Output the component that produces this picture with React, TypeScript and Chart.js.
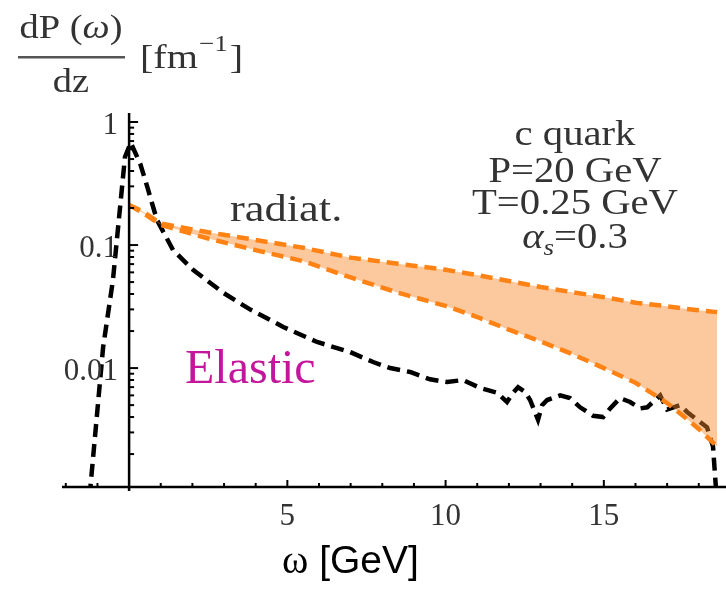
import React, { useEffect, useRef } from "react";
import { Chart, registerables } from "chart.js";
Chart.register(...registerables);

// Elastic energy-loss spectrum (black dashed)
const elasticOmega = [-1.25, -1.01, -0.82, -0.51, -0.13, 0.05, 0.35, 0.57, 0.88, 1.39, 2.02, 2.97, 3.82, 4.87, 5.94, 6.98, 7.71, 8.25, 8.88, 9.51, 10.05, 10.55, 11.09, 11.63, 11.94, 12.13, 12.29, 12.51, 12.67, 12.92, 13.05, 13.21, 13.62, 13.93, 14.25, 14.66, 14.98, 15.2, 15.51, 15.83, 16.15, 16.37, 16.78, 17.0, 17.41, 17.63, 17.95, 18.26, 18.45, 18.55];
const elasticValue = [0.0009, 0.0043, 0.0148, 0.052, 0.52, 0.68, 0.46, 0.3, 0.16, 0.091, 0.063, 0.041, 0.03, 0.0216, 0.0163, 0.0135, 0.0112, 0.01, 0.0093, 0.0081, 0.0077, 0.008, 0.0069, 0.0063, 0.0053, 0.0063, 0.007, 0.0064, 0.0055, 0.0038, 0.005, 0.0055, 0.006, 0.0057, 0.0048, 0.0041, 0.004, 0.0047, 0.0057, 0.0053, 0.0047, 0.0048, 0.006, 0.0046, 0.005, 0.0044, 0.0038, 0.0033, 0.0023, 0.00099];

// Radiative band (orange)
const radOmega = [0, 0.4, 1, 2.5, 4, 5.5, 7, 8.5, 10, 11, 12, 13, 14, 15, 16, 17, 17.5, 18, 18.58];
const radUpper = [0.211, 0.19, 0.15, 0.127, 0.11, 0.095, 0.079, 0.0705, 0.063, 0.057, 0.051, 0.0456, 0.0414, 0.0377, 0.034, 0.0318, 0.0305, 0.0295, 0.0285];
const radLower = [0.211, 0.185, 0.146, 0.113, 0.091, 0.074, 0.0545, 0.041, 0.032, 0.026, 0.0205, 0.0165, 0.013, 0.01, 0.0076, 0.0052, 0.0041, 0.0032, 0.0023];

const xTickValues = [5, 10, 15];
const xTickLabels = ["5", "10", "15"];
const yTickValues = [1, 0.1, 0.01];
const yTickLabels = ["1", "0.1", "0.01"];

const X_MIN = -2.12;
const X_MAX = 18.86;
const Y_MIN = 0.00108;
const Y_MAX = 1.184;

const SERIF = '"Liberation Serif", "Times New Roman", serif';
const SANS = '"Liberation Sans", Arial, sans-serif';

// draw text with optional horizontal stretch; returns drawn width
function txt(
  ctx: CanvasRenderingContext2D,
  s: string,
  x: number,
  y: number,
  font: string,
  align: "left" | "center" | "right" = "left",
  sx = 1
): number {
  ctx.font = font;
  const w = ctx.measureText(s).width * sx;
  let left = x;
  if (align === "center") left = x - w / 2;
  else if (align === "right") left = x - w;
  ctx.save();
  ctx.textAlign = "left";
  ctx.translate(left, y);
  ctx.scale(sx, 1);
  ctx.fillText(s, 0, 0);
  ctx.restore();
  return w;
}

function width(ctx: CanvasRenderingContext2D, s: string, font: string, sx = 1) {
  ctx.font = font;
  return ctx.measureText(s).width * sx;
}

const overlayPlugin = {
  id: "overlay",
  afterDraw(chart: any) {
    const ctx = chart.ctx as CanvasRenderingContext2D;
    const xs = chart.scales.x;
    const ys = chart.scales.y;
    const area = chart.chartArea;
    const x0 = xs.getPixelForValue(0);
    const yb = area.bottom;
    ctx.save();
    ctx.strokeStyle = "#000";
    ctx.lineWidth = 2.5;
    ctx.lineCap = "butt";
    // axes
    ctx.beginPath();
    ctx.moveTo(area.left, yb);
    ctx.lineTo(area.right, yb);
    ctx.stroke();
    ctx.beginPath();
    ctx.moveTo(x0, area.top);
    ctx.lineTo(x0, yb + 4);
    ctx.stroke();
    // x ticks
    ctx.lineWidth = 2;
    for (let k = -2; k <= 18; k++) {
      if (k === 0) continue;
      const px = xs.getPixelForValue(k);
      const len = k % 5 === 0 ? 7 : 4;
      ctx.beginPath();
      ctx.moveTo(px, yb);
      ctx.lineTo(px, yb - len);
      ctx.stroke();
    }
    // y ticks (log)
    for (let d = -3; d <= 0; d++) {
      for (let m = 1; m <= 9; m++) {
        const v = m * Math.pow(10, d);
        if (v < Y_MIN || v > Y_MAX) continue;
        const py = ys.getPixelForValue(v);
        const len = m === 1 ? 9 : 5;
        ctx.beginPath();
        ctx.moveTo(x0, py);
        ctx.lineTo(x0 + len, py);
        ctx.stroke();
      }
    }
    // tick labels
    ctx.fillStyle = "#333";
    ctx.textBaseline = "alphabetic";
    yTickValues.forEach((v, i) => {
      txt(ctx, yTickLabels[i], x0 - 11, ys.getPixelForValue(v) + 12, `31px ${SERIF}`, "right");
    });
    xTickValues.forEach((v, i) => {
      txt(ctx, xTickLabels[i], xs.getPixelForValue(v), 525, `31px ${SERIF}`, "center");
    });
    // x axis title
    ctx.fillStyle = "#000";
    let lx = 282;
    lx += txt(ctx, "ω", lx, 573, `40px ${SERIF}`, "left");
    txt(ctx, " [GeV]", lx, 573, `39px ${SANS}`, "left");
    // y axis title (fraction)
    ctx.fillStyle = "#333";
    {
      const sxT = 1.13;
      const fU = `34px ${SERIF}`;
      const fI = `italic 34px ${SERIF}`;
      const total = width(ctx, "dP (", fU, sxT) + width(ctx, "ω", fI, sxT) + width(ctx, ")", fU, sxT);
      let px = 71 - total / 2;
      px += txt(ctx, "dP (", px, 38, fU, "left", sxT);
      px += txt(ctx, "ω", px, 38, fI, "left", sxT);
      txt(ctx, ")", px, 38, fU, "left", sxT);
    }
    txt(ctx, "dz", 71, 92, `34px ${SERIF}`, "center", 1.13);
    ctx.fillStyle = "#555";
    ctx.fillRect(18, 56, 107, 2.5);
    ctx.fillStyle = "#333";
    let tx = 140;
    tx += txt(ctx, "[fm", tx, 68, `34px ${SERIF}`, "left", 1.18);
    tx += txt(ctx, "−1", tx + 1, 51, `23px ${SERIF}`, "left", 1.18) + 3;
    txt(ctx, "]", tx, 68, `34px ${SERIF}`, "left", 1.18);
    // radiat.
    txt(ctx, "radiat.", 230, 221, `38px ${SERIF}`, "left", 1.17);
    // Elastic
    ctx.fillStyle = "#c4169c";
    txt(ctx, "Elastic", 185, 383, `48px ${SERIF}`, "left");
    // parameter block
    ctx.fillStyle = "#333";
    const cx = 575;
    const f = `36px ${SERIF}`;
    const sx = 1.13;
    txt(ctx, "c quark", cx, 145, f, "center", sx);
    txt(ctx, "P=20 GeV", cx, 182, f, "center", sx);
    txt(ctx, "T=0.25 GeV", cx, 214, f, "center", sx);
    // alpha_s line
    const wA = width(ctx, "α", `italic 36px ${SERIF}`, sx);
    const wS = width(ctx, "s", `italic 24px ${SERIF}`, sx);
    const wR = width(ctx, "=0.3", f, sx);
    let ax = cx - (wA + wS + wR) / 2;
    ax += txt(ctx, "α", ax, 248, `italic 36px ${SERIF}`, "left", sx);
    ax += txt(ctx, "s", ax, 255, `italic 24px ${SERIF}`, "left", sx);
    txt(ctx, "=0.3", ax, 248, f, "left", sx);
    ctx.restore();
  },
};

export default function App() {
  const canvasRef = useRef<HTMLCanvasElement | null>(null);
  useEffect(() => {
    if (!canvasRef.current) return;
    const orange = "#ff8214";
    const chart = new Chart(canvasRef.current, {
      type: "line",
      data: {
        datasets: [
          {
            label: "radiative upper",
            data: radOmega.map((x, i) => ({ x, y: radUpper[i] })),
            borderColor: orange,
            borderWidth: 4.5,
            borderDash: [12, 7],
            pointRadius: 0,
            fill: false,
            tension: 0,
            order: 0,
          },
          {
            label: "radiative lower",
            data: radOmega.map((x, i) => ({ x, y: radLower[i] })),
            borderColor: orange,
            borderWidth: 4.5,
            borderDash: [12, 7],
            pointRadius: 0,
            fill: { target: 0 },
            backgroundColor: "rgba(249,134,40,0.45)",
            tension: 0,
            order: 1,
          },
          {
            label: "elastic",
            data: elasticOmega.map((x, i) => ({ x, y: elasticValue[i] })),
            borderColor: "#000",
            borderWidth: 4.5,
            borderDash: [13, 7],
            pointRadius: 0,
            fill: false,
            tension: 0,
            order: 2,
          },
        ],
      },
      options: {
        responsive: false,
        animation: false,
        devicePixelRatio: 1,
        layout: { padding: { left: 62, right: 0, top: 113, bottom: 108 } },
        plugins: { legend: { display: false }, tooltip: { enabled: false } },
        scales: {
          x: { type: "linear", min: X_MIN, max: X_MAX, display: false },
          y: { type: "logarithmic", min: Y_MIN, max: Y_MAX, display: false },
        },
      },
      plugins: [overlayPlugin],
    });
    return () => chart.destroy();
  }, []);
  return (
    <div style={{ position: "absolute", left: 0, top: 0, width: 726, height: 595, background: "#fff" }}>
      <canvas ref={canvasRef} width={726} height={595} />
    </div>
  );
}
